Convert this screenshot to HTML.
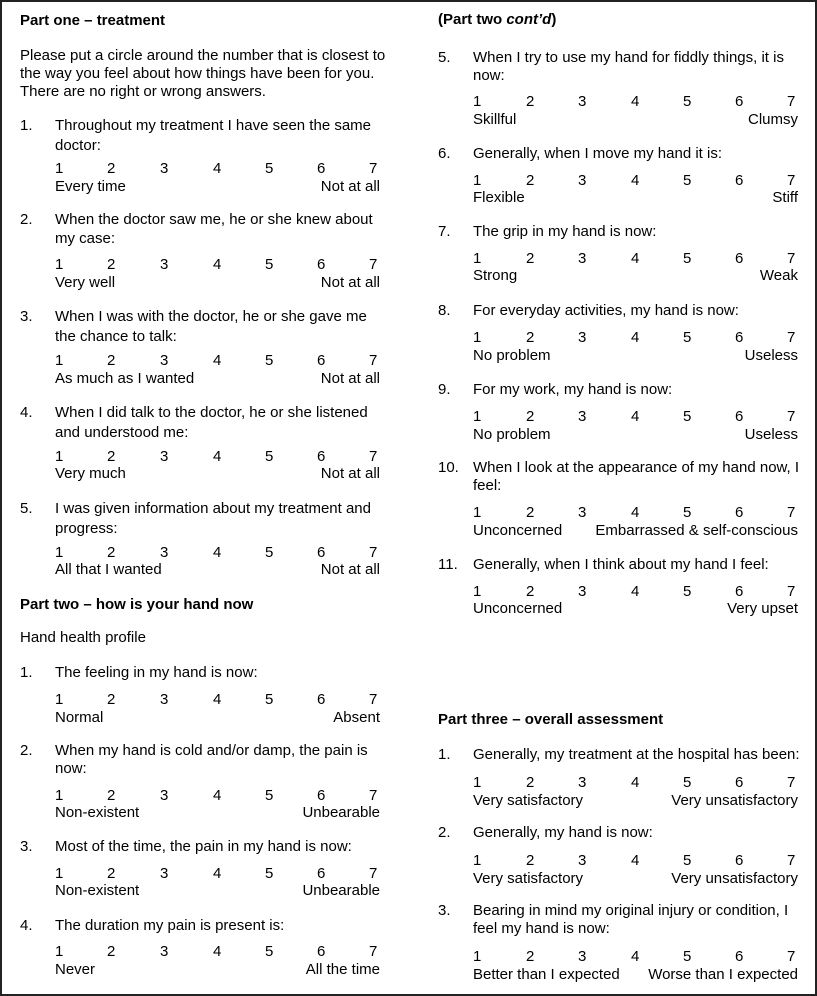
<!DOCTYPE html>
<html><head><meta charset="utf-8"><style>
html,body{margin:0;padding:0;background:#fff}
#p{position:relative;width:813px;height:992px;border:2px solid #222;overflow:hidden;font-family:"Liberation Sans",Arial,sans-serif;font-size:15px;color:#000;line-height:18px}
#p div{position:absolute;white-space:nowrap}
.b{font-weight:bold}
</style></head><body><div id="p">
<script>
var h='';
function t(x,y,s,c){h+='<div class="'+(c||'')+'" style="left:'+x+'px;top:'+(y-10)+'px">'+s+'</div>';}
function tr(x,y,s){h+='<div style="right:'+(813-x)+'px;top:'+(y-10)+'px">'+s+'</div>';}
function sc(L,y,ly,a,b){var xs=L?[55,107,160,213,265,317,369]:[473,526,578,631,683,735,787];
for(var i=0;i<7;i++)t(xs[i]-2,y,i+1);t(xs[0]-2,ly,a);tr(L?378:796,ly,b);}
function q(L,n,lines,y0,dy,sy,ly,a,b){var nx=L?18:436,tx=L?53:471;t(nx,y0,n);for(var i=0;i<lines.length;i++)t(tx,y0+i*dy,lines[i]);sc(L,sy,ly,a,b);}
t(18,20,'Part one – treatment','b');
t(18,55,'Please put a circle around the number that is closest to');
t(18,73,'the way you feel about how things have been for you.');
t(18,91,'There are no right or wrong answers.');
q(1,'1.',['Throughout my treatment I have seen the same','doctor:'],125,20,168,186,'Every time','Not at all');
q(1,'2.',['When the doctor saw me, he or she knew about','my case:'],219,19,264,282,'Very well','Not at all');
q(1,'3.',['When I was with the doctor, he or she gave me','the chance to talk:'],316,20,360,378,'As much as I wanted','Not at all');
q(1,'4.',['When I did talk to the doctor, he or she listened','and understood me:'],412,20,456,473,'Very much','Not at all');
q(1,'5.',['I was given information about my treatment and','progress:'],508,20,552,569,'All that I wanted','Not at all');
t(18,604,'Part two – how is your hand now','b');
t(18,637,'Hand health profile');
q(1,'1.',['The feeling in my hand is now:'],672,20,699,717,'Normal','Absent');
q(1,'2.',['When my hand is cold and/or damp, the pain is','now:'],750,18,795,812,'Non-existent','Unbearable');
q(1,'3.',['Most of the time, the pain in my hand is now:'],846,20,873,890,'Non-existent','Unbearable');
q(1,'4.',['The duration my pain is present is:'],925,20,951,969,'Never','All the time');
t(436,19,'(Part two <i>cont’d</i>)','b');
q(0,'5.',['When I try to use my hand for fiddly things, it is','now:'],57,18,101,119,'Skillful','Clumsy');
q(0,'6.',['Generally, when I move my hand it is:'],153,18,180,197,'Flexible','Stiff');
q(0,'7.',['The grip in my hand is now:'],231,18,258,275,'Strong','Weak');
q(0,'8.',['For everyday activities, my hand is now:'],310,18,337,355,'No problem','Useless');
q(0,'9.',['For my work, my hand is now:'],389,18,416,434,'No problem','Useless');
q(0,'10.',['When I look at the appearance of my hand now, I','feel:'],467,18,512,530,'Unconcerned','Embarrassed &amp; self-conscious');
q(0,'11.',['Generally, when I think about my hand I feel:'],564,18,591,608,'Unconcerned','Very upset');
t(436,719,'Part three – overall assessment','b');
q(0,'1.',['Generally, my treatment at the hospital has been:'],754,18,782,800,'Very satisfactory','Very unsatisfactory');
q(0,'2.',['Generally, my hand is now:'],832,18,860,878,'Very satisfactory','Very unsatisfactory');
q(0,'3.',['Bearing in mind my original injury or condition, I','feel my hand is now:'],910,18,956,974,'Better than I expected','Worse than I expected');
document.getElementById('p').innerHTML=h;
</script>
</div></body></html>
